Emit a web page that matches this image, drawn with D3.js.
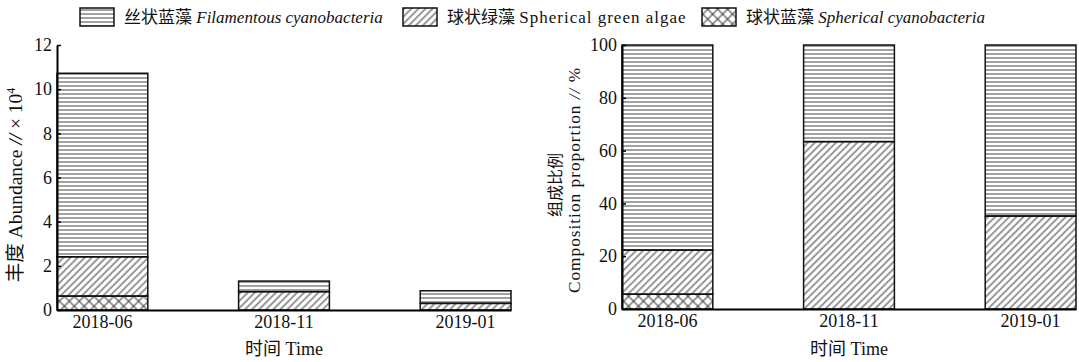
<!DOCTYPE html>
<html lang="zh">
<head>
<meta charset="utf-8" />
<title>Algae abundance and composition</title>
<style>
  body { margin: 0; background: #fff; }
  text { fill: #111; }
  .serif { font-family: "Liberation Serif", "Noto Sans CJK SC", serif; }
  .axis path, .axis line { stroke: #000; }
  .axis path { stroke-width: 2px; }
</style>
<script src="https://cdn.jsdelivr.net/npm/d3@7"></script>
</head>
<body>
<script>
// data
var dates = ["2018-06", "2018-11", "2019-01"];
var keys = ["cyano", "green", "filament"];   // bottom to top
// abundance (x10^4)
var abFilament = [8.31, 0.48, 0.57];
var abGreen = [1.78, 0.83, 0.30];
var abCyano = [0.63, 0, 0];
// composition proportion (%)
var prFilament = [77.7, 36.6, 64.8];
var prGreen = [16.7, 63.4, 35.2];
var prCyano = [5.6, 0, 0];
var abTicks = [0, 2, 4, 6, 8, 10, 12];
var prTicks = [0, 20, 40, 60, 80, 100];

var W = 1079, H = 362;
var svg = d3.select("body").append("svg")
    .attr("width", W).attr("height", H);

// hatch patterns
var defs = svg.append("defs");
var pH = defs.append("pattern").attr("id", "pH")
    .attr("patternUnits", "userSpaceOnUse").attr("width", 8).attr("height", 4);
pH.append("line").attr("x1", 0).attr("x2", 8).attr("y1", 2).attr("y2", 2)
    .attr("stroke", "#444").attr("stroke-width", 1);
var pD = defs.append("pattern").attr("id", "pD")
    .attr("patternUnits", "userSpaceOnUse").attr("width", 5).attr("height", 5)
    .attr("patternTransform", "rotate(45)");
pD.append("line").attr("x1", 2).attr("x2", 2).attr("y1", 0).attr("y2", 5)
    .attr("stroke", "#333").attr("stroke-width", 1);
var pX = defs.append("pattern").attr("id", "pX")
    .attr("patternUnits", "userSpaceOnUse").attr("width", 7).attr("height", 7)
    .attr("patternTransform", "rotate(45)");
pX.append("line").attr("x1", 3).attr("x2", 3).attr("y1", 0).attr("y2", 7)
    .attr("stroke", "#333").attr("stroke-width", 1);
pX.append("line").attr("x1", 0).attr("x2", 7).attr("y1", 3).attr("y2", 3)
    .attr("stroke", "#333").attr("stroke-width", 1);
var fills = { cyano: "url(#pX)", green: "url(#pD)", filament: "url(#pH)" };

function rows(fil, gr, cy) {
  return dates.map(function(d, i) {
    return { date: d, filament: fil[i], green: gr[i], cyano: cy[i] };
  });
}

function drawPanel(data, x0, x1, y0, y1, ymax, ticks) {
  var x = d3.scaleBand().domain(dates).range([x0, x1])
      .paddingInner(0.5).paddingOuter(0);
  var y = d3.scaleLinear().domain([0, ymax]).range([y0, y1]);
  var series = d3.stack().keys(keys)(data);

  var g = svg.append("g");
  series.forEach(function(s) {
    var segs = s.filter(function(d) { return d[1] > d[0]; });
    g.selectAll(null).data(segs)
      .enter().append("rect")
      .attr("x", function(d) { return x(d.data.date); })
      .attr("width", x.bandwidth())
      .attr("y", function(d) { return y(d[1]); })
      .attr("height", function(d) { return y(d[0]) - y(d[1]); })
      .attr("fill", fills[s.key])
      .attr("stroke", "#111").attr("stroke-width", 1.5);
  });

  // y axis, ticks point inward
  svg.append("g").attr("class", "axis serif")
    .attr("transform", "translate(" + x0 + ",0)")
    .call(d3.axisLeft(y).tickValues(ticks).tickSizeInner(-4).tickSizeOuter(0).tickPadding(5))
    .call(function(a) {
      a.selectAll("text").style("font-size", "18px").attr("fill", "#111");
      a.selectAll("line").attr("stroke-width", 1.5);
    });
  // x axis
  svg.append("g").attr("class", "axis serif")
    .attr("transform", "translate(0," + y0 + ")")
    .call(d3.axisBottom(x).tickSize(0).tickPadding(5))
    .call(function(a) {
      a.selectAll("text").style("font-size", "18px").attr("fill", "#111");
    });
  svg.append("text").attr("class", "serif")
    .attr("x", (x0 + x1) / 2).attr("y", 355)
    .attr("text-anchor", "middle").style("font-size", "18px")
    .text("时间 Time");
}

drawPanel(rows(abFilament, abGreen, abCyano), 57, 511, 310, 45, 12, abTicks);
drawPanel(rows(prFilament, prGreen, prCyano), 622, 1076, 309, 45, 100, prTicks);

// y titles
var t1 = svg.append("text").attr("class", "serif")
    .attr("transform", "translate(22,185) rotate(-90)")
    .attr("text-anchor", "middle").style("font-size", "19.5px");
t1.append("tspan").text("丰度 Abundance ");
t1.append("tspan").style("font-style", "italic").text("//");
t1.append("tspan").text(" × 10");
t1.append("tspan").attr("dy", -7).style("font-size", "12px").text("4");

svg.append("text").attr("class", "serif")
    .attr("transform", "translate(561,185) rotate(-90)")
    .attr("text-anchor", "middle").style("font-size", "16px")
    .text("组成比例");
var t2 = svg.append("text").attr("class", "serif")
    .attr("transform", "translate(580,180) rotate(-90)")
    .attr("text-anchor", "middle").style("font-size", "17.3px")
    .style("letter-spacing", "1px");
t2.append("tspan").text("Composition proportion ");
t2.append("tspan").style("font-style", "italic").text("//");
t2.append("tspan").text(" %");

// legend
var legend = [
  { key: "filament", zh: "丝状蓝藻 ", en: "Filamentous cyanobacteria", it: true, bx: 80 },
  { key: "green", zh: "球状绿藻 ", en: "Spherical green algae", it: false, bx: 403 },
  { key: "cyano", zh: "球状蓝藻 ", en: "Spherical cyanobacteria", it: true, bx: 702 }
];
legend.forEach(function(l) {
  svg.append("rect").attr("x", l.bx).attr("y", 8).attr("width", 34).attr("height", 18)
    .attr("fill", fills[l.key]).attr("stroke", "#111").attr("stroke-width", 1.5);
  var t = svg.append("text").attr("class", "serif")
      .attr("x", l.bx + 44).attr("y", 23).style("font-size", "17px");
  t.append("tspan").text(l.zh);
  t.append("tspan").style("font-style", l.it ? "italic" : "normal")
    .style("letter-spacing", l.it ? "0px" : "1px").text(l.en);
});
</script>
</body>
</html>
